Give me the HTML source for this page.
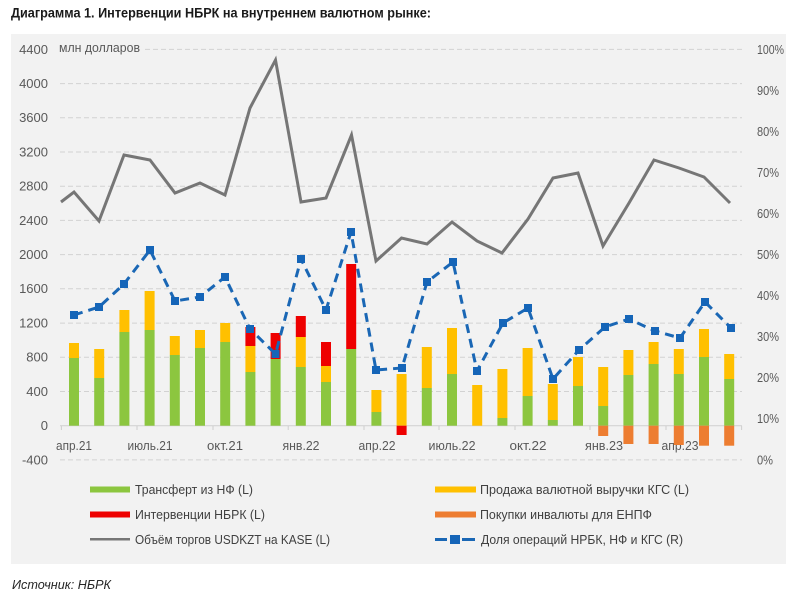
<!DOCTYPE html>
<html><head><meta charset="utf-8"><style>
html,body{margin:0;padding:0;background:#fff;}
svg{display:block;}
text{font-family:"Liberation Sans","Noto Sans CJK SC",sans-serif;}
</style></head><body>
<svg width="800" height="599" viewBox="0 0 800 599" xmlns="http://www.w3.org/2000/svg">
<rect x="0" y="0" width="800" height="599" fill="#fff"/>
<text x="11" y="17.5" font-size="13.5" font-weight="bold" fill="#1a1a1a" textLength="420" lengthAdjust="spacingAndGlyphs">Диаграмма 1. Интервенции НБРК на внутреннем валютном рынке:</text>
<rect x="11" y="34" width="775" height="530" fill="#f2f2f2"/>
<!-- gridlines -->
<g stroke="#d2d2d2" stroke-width="1" stroke-dasharray="5 3">
<line x1="145" y1="49.4" x2="742" y2="49.4"/>
<line x1="60" y1="83.6" x2="742" y2="83.6"/>
<line x1="60" y1="117.8" x2="742" y2="117.8"/>
<line x1="60" y1="152" x2="742" y2="152"/>
<line x1="60" y1="186.2" x2="742" y2="186.2"/>
<line x1="60" y1="220.4" x2="742" y2="220.4"/>
<line x1="60" y1="254.6" x2="742" y2="254.6"/>
<line x1="60" y1="288.8" x2="742" y2="288.8"/>
<line x1="60" y1="323.1" x2="742" y2="323.1"/>
<line x1="60" y1="357.3" x2="742" y2="357.3"/>
<line x1="60" y1="391.5" x2="742" y2="391.5"/>
<line x1="60" y1="459.9" x2="742" y2="459.9"/>
</g>
<line x1="60" y1="425.7" x2="742" y2="425.7" stroke="#cfcfcf" stroke-width="1"/>
<g stroke="#cfcfcf" stroke-width="1">
<line x1="61.4" y1="425.7" x2="61.4" y2="430"/><line x1="137" y1="425.7" x2="137" y2="430"/>
<line x1="213" y1="425.7" x2="213" y2="430"/><line x1="288.2" y1="425.7" x2="288.2" y2="430"/>
<line x1="364" y1="425.7" x2="364" y2="430"/><line x1="439" y1="425.7" x2="439" y2="430"/>
<line x1="515" y1="425.7" x2="515" y2="430"/><line x1="590" y1="425.7" x2="590" y2="430"/>
<line x1="666" y1="425.7" x2="666" y2="430"/><line x1="741.6" y1="425.7" x2="741.6" y2="430"/>
</g>
<!-- left axis labels -->
<g font-size="13" fill="#595959" text-anchor="end">
<text x="48" y="54">4400</text><text x="48" y="88">4000</text><text x="48" y="122">3600</text>
<text x="48" y="156.5">3200</text><text x="48" y="190.5">2800</text><text x="48" y="225">2400</text>
<text x="48" y="259">2000</text><text x="48" y="293">1600</text><text x="48" y="327.5">1200</text>
<text x="48" y="361.5">800</text><text x="48" y="396">400</text><text x="48" y="430">0</text>
<text x="48" y="464.5">-400</text>
</g>
<text x="59" y="52" font-size="12.5" fill="#595959" textLength="81" lengthAdjust="spacingAndGlyphs">млн долларов</text>
<!-- right axis labels -->
<g font-size="13" fill="#595959">
<text x="757" y="54" textLength="27" lengthAdjust="spacingAndGlyphs">100%</text>
<text x="757" y="95" textLength="22" lengthAdjust="spacingAndGlyphs">90%</text>
<text x="757" y="136" textLength="22" lengthAdjust="spacingAndGlyphs">80%</text>
<text x="757" y="177" textLength="22" lengthAdjust="spacingAndGlyphs">70%</text>
<text x="757" y="218" textLength="22" lengthAdjust="spacingAndGlyphs">60%</text>
<text x="757" y="259" textLength="22" lengthAdjust="spacingAndGlyphs">50%</text>
<text x="757" y="300" textLength="22" lengthAdjust="spacingAndGlyphs">40%</text>
<text x="757" y="341" textLength="22" lengthAdjust="spacingAndGlyphs">30%</text>
<text x="757" y="382" textLength="22" lengthAdjust="spacingAndGlyphs">20%</text>
<text x="757" y="423" textLength="22" lengthAdjust="spacingAndGlyphs">10%</text>
<text x="757" y="464.5" textLength="16" lengthAdjust="spacingAndGlyphs">0%</text>
</g>
<!-- x labels -->
<g font-size="13" fill="#595959" text-anchor="middle">
<text x="74" y="450" textLength="36" lengthAdjust="spacingAndGlyphs">апр.21</text>
<text x="150" y="450" textLength="45" lengthAdjust="spacingAndGlyphs">июль.21</text>
<text x="225" y="450" textLength="36" lengthAdjust="spacingAndGlyphs">окт.21</text>
<text x="301" y="450" textLength="37" lengthAdjust="spacingAndGlyphs">янв.22</text>
<text x="377" y="450" textLength="37" lengthAdjust="spacingAndGlyphs">апр.22</text>
<text x="452" y="450" textLength="47" lengthAdjust="spacingAndGlyphs">июль.22</text>
<text x="528" y="450" textLength="37" lengthAdjust="spacingAndGlyphs">окт.22</text>
<text x="604" y="450" textLength="38" lengthAdjust="spacingAndGlyphs">янв.23</text>
<text x="680" y="450" textLength="37" lengthAdjust="spacingAndGlyphs">апр.23</text>
</g>
<!-- bars -->
<g>
<g fill="#8cc63f">
<rect x="69" y="358" width="10" height="67.7"/>
<rect x="94.2" y="378" width="10" height="47.7"/>
<rect x="119.4" y="332" width="10" height="93.7"/>
<rect x="144.6" y="330" width="10" height="95.7"/>
<rect x="169.8" y="355" width="10" height="70.7"/>
<rect x="195" y="348" width="10" height="77.7"/>
<rect x="220.2" y="342" width="10" height="83.7"/>
<rect x="245.4" y="372" width="10" height="53.7"/>
<rect x="270.6" y="359" width="10" height="66.7"/>
<rect x="295.8" y="367" width="10" height="58.7"/>
<rect x="321" y="382" width="10" height="43.7"/>
<rect x="346.2" y="349" width="10" height="76.7"/>
<rect x="371.4" y="412" width="10" height="13.7"/>
<rect x="421.8" y="388" width="10" height="37.7"/>
<rect x="447" y="374" width="10" height="51.7"/>
<rect x="497.4" y="418" width="10" height="7.7"/>
<rect x="522.6" y="396" width="10" height="29.7"/>
<rect x="547.8" y="420" width="10" height="5.7"/>
<rect x="573" y="386" width="10" height="39.7"/>
<rect x="598.2" y="406" width="10" height="19.7"/>
<rect x="623.4" y="375" width="10" height="50.7"/>
<rect x="648.6" y="364" width="10" height="61.7"/>
<rect x="673.8" y="374" width="10" height="51.7"/>
<rect x="699" y="357" width="10" height="68.7"/>
<rect x="724.2" y="379" width="10" height="46.7"/>
</g>
<g fill="#ffc000">
<rect x="69" y="343" width="10" height="15"/>
<rect x="94.2" y="349" width="10" height="29"/>
<rect x="119.4" y="310" width="10" height="22"/>
<rect x="144.6" y="291" width="10" height="39"/>
<rect x="169.8" y="336" width="10" height="19"/>
<rect x="195" y="330" width="10" height="18"/>
<rect x="220.2" y="323" width="10" height="19"/>
<rect x="245.4" y="346" width="10" height="26"/>
<rect x="295.8" y="337" width="10" height="30"/>
<rect x="321" y="366" width="10" height="16"/>
<rect x="371.4" y="390" width="10" height="22"/>
<rect x="396.6" y="374" width="10" height="51.7"/>
<rect x="421.8" y="347" width="10" height="41"/>
<rect x="447" y="328" width="10" height="46"/>
<rect x="472.2" y="385" width="10" height="40.7"/>
<rect x="497.4" y="369" width="10" height="49"/>
<rect x="522.6" y="348" width="10" height="48"/>
<rect x="547.8" y="384" width="10" height="36"/>
<rect x="573" y="357" width="10" height="29"/>
<rect x="598.2" y="367" width="10" height="39"/>
<rect x="623.4" y="350" width="10" height="25"/>
<rect x="648.6" y="342" width="10" height="22"/>
<rect x="673.8" y="349" width="10" height="25"/>
<rect x="699" y="329" width="10" height="28"/>
<rect x="724.2" y="354" width="10" height="25"/>
</g>
<g fill="#ee0000">
<rect x="245.4" y="327" width="10" height="19"/>
<rect x="270.6" y="333" width="10" height="26"/>
<rect x="295.8" y="316" width="10" height="21"/>
<rect x="321" y="342" width="10" height="24"/>
<rect x="346.2" y="264" width="10" height="85"/>
<rect x="396.6" y="425.7" width="10" height="9.3"/>
</g>
<g fill="#ed7d31">
<rect x="598.2" y="425.7" width="10" height="10.3"/>
<rect x="623.4" y="425.7" width="10" height="18.3"/>
<rect x="648.6" y="425.7" width="10" height="18.3"/>
<rect x="673.8" y="425.7" width="10" height="19.3"/>
<rect x="699" y="425.7" width="10" height="20"/>
<rect x="724.2" y="425.7" width="10" height="20"/>
</g>
</g>
<!-- gray line -->
<polyline fill="none" stroke="#767676" stroke-width="3" stroke-linejoin="miter" points="61,202 74,192 99,221 124,155 150,160 175,193 200,183 225,195 250,108 275.5,60 301,202 326,198 351.5,135 376,261 401.5,238 427,244 452,222 477,241 502,253 528,219 553,178 578,173 603,246 629,203 654,160 679,168 704,177 730,203"/>
<!-- blue dashed line -->
<polyline fill="none" stroke="#1a67b5" stroke-width="3" stroke-dasharray="9 6" points="74,315 99,307 124,284 150,250 175,301 200,297 225,277 250,329 275.5,354 301,259 326,310 351,232 376,370 402,368 427,282 453,262 477,371 503,323 528,308 553,379 579,350 605,327 629,319 655,331 680,338 705,302 731,328"/>
<g fill="#1565b8">
<rect x="70" y="311" width="8" height="8"/><rect x="95" y="303" width="8" height="8"/>
<rect x="120" y="280" width="8" height="8"/><rect x="146" y="246" width="8" height="8"/>
<rect x="171" y="297" width="8" height="8"/><rect x="196" y="293" width="8" height="8"/>
<rect x="221" y="273" width="8" height="8"/><rect x="246" y="325" width="8" height="8"/>
<rect x="271.5" y="350" width="8" height="8"/><rect x="297" y="255" width="8" height="8"/>
<rect x="322" y="306" width="8" height="8"/><rect x="347" y="228" width="8" height="8"/>
<rect x="372" y="366" width="8" height="8"/><rect x="398" y="364" width="8" height="8"/>
<rect x="423" y="278" width="8" height="8"/><rect x="449" y="258" width="8" height="8"/>
<rect x="473" y="367" width="8" height="8"/><rect x="499" y="319" width="8" height="8"/>
<rect x="524" y="304" width="8" height="8"/><rect x="549" y="375" width="8" height="8"/>
<rect x="575" y="346" width="8" height="8"/><rect x="601" y="323" width="8" height="8"/>
<rect x="625" y="315" width="8" height="8"/><rect x="651" y="327" width="8" height="8"/>
<rect x="676" y="334" width="8" height="8"/><rect x="701" y="298" width="8" height="8"/>
<rect x="727" y="324" width="8" height="8"/>
</g>
<!-- legend -->
<rect x="90" y="486.5" width="40" height="6" fill="#8cc63f"/>
<rect x="90" y="511.5" width="40" height="6" fill="#ee0000"/>
<line x1="90" y1="539.3" x2="130" y2="539.3" stroke="#767676" stroke-width="2.5"/>
<rect x="435" y="486.5" width="41" height="6" fill="#ffc000"/>
<rect x="435" y="511.5" width="41" height="6" fill="#ed7d31"/>
<line x1="435" y1="539.5" x2="447" y2="539.5" stroke="#1a67b5" stroke-width="3"/>
<rect x="450" y="535" width="10" height="9" fill="#1565b8"/>
<line x1="462" y1="539.5" x2="475" y2="539.5" stroke="#1a67b5" stroke-width="3"/>
<g font-size="13" fill="#404040">
<text x="135" y="494" textLength="118" lengthAdjust="spacingAndGlyphs">Трансферт из НФ (L)</text>
<text x="135" y="519" textLength="130" lengthAdjust="spacingAndGlyphs">Интервенции НБРК (L)</text>
<text x="135" y="544" textLength="195" lengthAdjust="spacingAndGlyphs">Объём торгов USDKZT на KASE (L)</text>
<text x="480" y="494" textLength="209" lengthAdjust="spacingAndGlyphs">Продажа валютной выручки КГС (L)</text>
<text x="480" y="519" textLength="172" lengthAdjust="spacingAndGlyphs">Покупки инвалюты для ЕНПФ</text>
<text x="481" y="544" textLength="202" lengthAdjust="spacingAndGlyphs">Доля операций НРБК, НФ и КГС (R)</text>
</g>
<text x="12" y="589" font-size="12.5" font-style="italic" fill="#262626" textLength="99" lengthAdjust="spacingAndGlyphs">Источник: НБРК</text>
</svg>
</body></html>
